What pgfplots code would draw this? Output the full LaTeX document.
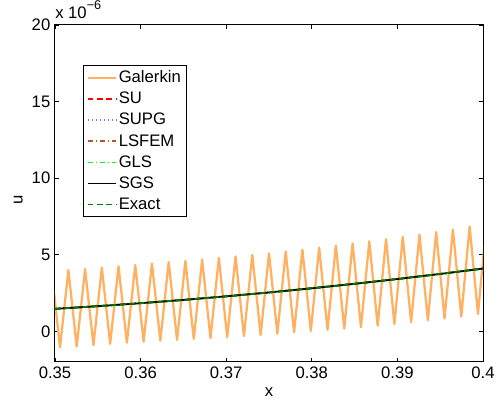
\documentclass[border=0pt]{standalone}
\usepackage{fontspec}
\setmainfont{Liberation Sans}
\usepackage{pgfplots}
\usepackage{pgfplotstable}
\pgfplotsset{compat=1.18}
\definecolor{galerkin}{rgb}{1,0.69,0.38}
\definecolor{suc}{rgb}{1,0,0}
\definecolor{supgc}{rgb}{0.45,0.45,1}
\definecolor{lsfemc}{rgb}{0.7,0.35,0.15}
\definecolor{glsc}{rgb}{0,1,0}
\definecolor{exactc}{rgb}{0,0.5,0}

\pgfplotstableread{
x u
0.349609 3.90
0.350586 -1.05
0.351563 3.99
0.352539 -0.99
0.353516 4.07
0.354492 -0.90
0.355469 4.16
0.356445 -0.81
0.357422 4.25
0.358398 -0.74
0.359375 4.33
0.360352 -0.67
0.361328 4.43
0.362305 -0.61
0.363281 4.52
0.364258 -0.56
0.365234 4.60
0.366211 -0.50
0.367188 4.69
0.368164 -0.44
0.369141 4.80
0.370117 -0.38
0.371094 4.89
0.372070 -0.31
0.373047 4.99
0.374023 -0.23
0.375000 5.10
0.375977 -0.14
0.376953 5.21
0.377930 -0.06
0.378906 5.33
0.379883 0.02
0.380859 5.46
0.381836 0.10
0.382813 5.60
0.383789 0.18
0.384766 5.74
0.385742 0.27
0.386719 5.88
0.387695 0.37
0.388672 6.02
0.389648 0.48
0.390625 6.17
0.391602 0.60
0.392578 6.32
0.393555 0.72
0.394531 6.48
0.395508 0.84
0.396484 6.65
0.397461 0.97
0.398438 6.84
0.399414 1.13
0.400391 7.00
}\galerkin

\pgfplotstableread{
x u
0.350 1.470
0.355 1.645
0.360 1.839
0.365 2.053
0.370 2.287
0.375 2.540
0.380 2.813
0.385 3.105
0.390 3.417
0.395 3.749
0.400 4.100
}\exact

\newcommand{\lblfont}{\fontsize{12.5}{14}\selectfont}

\begin{document}
\begin{tikzpicture}
\begin{axis}[
  scale only axis, width=321pt, height=252.75pt,
  xmin=0.35, xmax=0.4, ymin=-2, ymax=20,
  xtick={0.35,0.36,0.37,0.38,0.39,0.4},
  ytick={0,5,10,15,20},
  xticklabel style={/pgf/number format/fixed, /pgf/number format/precision=2},
  /pgf/number format/assume math mode=true,
  tick align=inside, major tick length=3pt,
  tick style={black, line width=0.5pt},
  axis line style={line width=0.75pt},
  ticklabel style={font=\lblfont},
  label style={font=\lblfont},
  xlabel={x}, ylabel={u},
  xlabel style={at={(axis description cs:0.5,-0.089)}, anchor=center},
  ylabel style={at={(axis description cs:-0.086,0.48)}, anchor=center},
  legend cell align=left,
  legend style={at={(axis description cs:0.065,0.881)}, anchor=north west,
    font=\lblfont,
    inner sep=2.5pt, row sep=2.6pt,
    nodes={inner sep=1.5pt}},
  every legend/.append style={draw=black},
  legend image code/.code={\draw[mark repeat=2,mark phase=2,#1] plot coordinates {(0cm,0cm) (0.37cm,0cm) (0.74cm,0cm)};},
]
\addplot[draw=galerkin, line width=1.7pt, line join=round] table[x=x,y=u]{\galerkin};
\addlegendentry{Galerkin}
\addplot[draw=suc, line width=1.3pt, dash pattern=on 4pt off 3pt] table[x=x,y=u]{\exact};
\addlegendentry{SU}
\addplot[draw=supgc, line width=1.3pt, dash pattern=on 1pt off 2pt] table[x=x,y=u]{\exact};
\addlegendentry{SUPG}
\addplot[draw=lsfemc, line width=1.3pt, dash pattern=on 4pt off 2pt on 1pt off 2pt] table[x=x,y=u]{\exact};
\addlegendentry{LSFEM}
\addplot[draw=glsc, line width=1.3pt, dash pattern=on 4pt off 2pt on 1pt off 2pt] table[x=x,y=u]{\exact};
\addlegendentry{GLS}
\addplot[draw=black, line width=1.3pt] table[x=x,y=u]{\exact};
\addlegendentry{SGS}
\addplot[draw=exactc, line width=1.3pt, dash pattern=on 4pt off 3pt] table[x=x,y=u]{\exact};
\addlegendentry{Exact}
\coordinate (bl) at (rel axis cs:0,0);
\coordinate (tr) at (rel axis cs:1,1);
\end{axis}
\node[anchor=base west, font=\lblfont, inner sep=0pt] at ([yshift=4.5pt]bl |- tr) {x 10\raisebox{0.55em}{\fontsize{9.5}{10}\selectfont −6}};
\pgfresetboundingbox
\path[use as bounding box] ([xshift=-41.25pt,yshift=-33pt]bl) rectangle ([xshift=12pt,yshift=18.75pt]tr);
\end{tikzpicture}
\end{document}
